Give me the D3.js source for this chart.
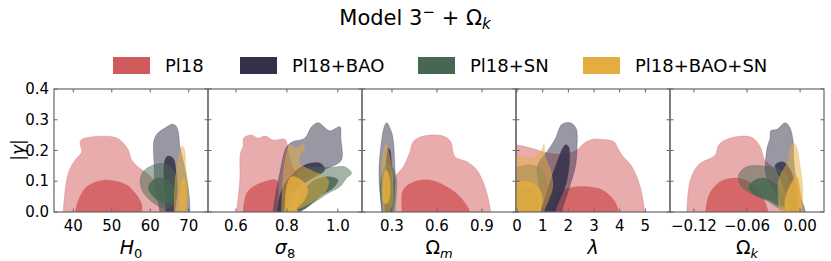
<!DOCTYPE html>
<html><head><meta charset="utf-8">
<script src="https://cdn.jsdelivr.net/npm/d3@7"></script>
<style>body{margin:0;background:#fff}svg{display:block}text{font-family:"DejaVu Sans",sans-serif;fill:#000}</style>
</head><body><svg id="c" width="831" height="261"></svg>
<script>
// ---- data ----
const seriesNames = ["Pl18", "Pl18+BAO", "Pl18+SN", "Pl18+BAO+SN"];
const seriesColors = ["#d15a5c", "#34304a", "#476752", "#e4ad3f"];
const params = ["H0", "sigma8", "Omega_m", "lambda", "Omega_k"];
const xDomains = [[35, 75], [0.49, 1.095], [0.1, 1.127], [-0.04, 5.96], [-0.147, 0.027]];
const xTicks = [[40, 50, 60, 70], [0.6, 0.8, 1.0], [0.3, 0.6, 0.9], [0, 1, 2, 3, 4, 5], [-0.12, -0.06, 0.0]];
const xTickLabels = [["40", "50", "60", "70"], ["0.6", "0.8", "1.0"], ["0.3", "0.6", "0.9"], ["0", "1", "2", "3", "4", "5"], ["\u22120.12", "\u22120.06", "0.00"]];
const yDomain = [0, 0.4];
const yTicks = [0, 0.1, 0.2, 0.3, 0.4];
const yTickLabels = ["0.0", "0.1", "0.2", "0.3", "0.4"];

// contour outlines [param value, |gamma|] per panel (95% and 68%)
const pl18_95 = [
  [[37.4,0],[38.7,0.126],[40.5,0.169],[42.2,0.196],[41.75,0.223],[42.2,0.236],[45.2,0.245],[50.8,0.243],[52.6,0.229],[54.3,0.202],[55.2,0.169],[57.3,0.142],[59.1,0.126],[61.7,0.093],[63.4,0.05],[64.3,0]],
  [[0.603,0],[0.615,0.104],[0.617,0.19],[0.628,0.215],[0.630,0.24],[0.661,0.25],[0.687,0.24],[0.714,0.247],[0.746,0.234],[0.792,0.236],[0.803,0.212],[0.804,0.202],[0.819,0.153],[0.851,0.111],[0.882,0.072],[0.886,0.023],[0.851,0]],
  [[0.320,0],[0.309,0.104],[0.375,0.147],[0.420,0.196],[0.442,0.229],[0.509,0.247],[0.642,0.247],[0.691,0.229],[0.720,0.180],[0.798,0.164],[0.865,0.137],[0.920,0.082],[0.958,0]],
  [[-0.3,-0.02],[-0.3,0.218],[0,0.218],[0.58,0.207],[1.23,0.191],[1.88,0.189],[2.34,0.202],[2.60,0.223],[2.92,0.236],[3.31,0.236],[3.77,0.229],[3.93,0.207],[4.09,0.185],[4.48,0.147],[4.80,0.082],[4.97,0]],
  [[-0.128,0],[-0.124,0.104],[-0.115,0.153],[-0.096,0.185],[-0.092,0.218],[-0.083,0.236],[-0.064,0.247],[-0.053,0.240],[-0.045,0.212],[-0.040,0.169],[-0.034,0.153],[-0.022,0.120],[-0.011,0.072],[-0.005,0]]
];
const pl18_68 = [
  [[40.5,0],[41.75,0.05],[43.5,0.082],[47,0.102],[50.4,0.102],[53.9,0.088],[56.5,0.055],[57.8,0.023],[57.8,0]],
  [[0.628,0],[0.642,0.061],[0.668,0.082],[0.714,0.099],[0.759,0.104],[0.766,0.061],[0.759,0]],
  [[0.365,0],[0.375,0.072],[0.453,0.099],[0.553,0.104],[0.665,0.082],[0.753,0.050],[0.820,0]],
  [[1.36,0],[1.62,0.061],[2.14,0.080],[2.79,0.082],[3.31,0.072],[3.77,0.039],[3.96,0]],
  [[-0.107,0],[-0.102,0.061],[-0.090,0.099],[-0.077,0.110],[-0.062,0.104],[-0.047,0.072],[-0.036,0]]
];
const bao_95 = [
  [[62.5,0],[61.2,0.088],[61.0,0.153],[61.0,0.234],[62.0,0.257],[63.8,0.273],[65.6,0.285],[66.7,0.280],[67.3,0.260],[67.7,0.212],[68.5,0.169],[69.3,0.120],[70.1,0.055],[70.3,0]],
  [[0.746,0],[0.772,0.126],[0.799,0.212],[0.825,0.229],[0.870,0.240],[0.897,0.277],[0.923,0.290],[0.968,0.264],[1.008,0.277],[1.012,0.240],[1.014,0.169],[0.975,0.147],[0.923,0.131],[0.870,0.104],[0.831,0.061],[0.805,0]],
  [[0.231,0],[0.213,0.126],[0.231,0.234],[0.250,0.280],[0.265,0.290],[0.285,0.275],[0.305,0.245],[0.320,0.104],[0.309,0]],
  [[0.97,0],[0.85,0.09],[0.80,0.15],[1.2,0.2],[1.5,0.24],[1.75,0.285],[2.08,0.290],[2.30,0.272],[2.34,0.212],[2.27,0.147],[2.01,0.072],[1.75,0]],
  [[-0.015,0],[-0.020,0.028],[-0.032,0.082],[-0.039,0.126],[-0.039,0.169],[-0.037,0.212],[-0.034,0.240],[-0.033,0.264],[-0.026,0.269],[-0.017,0.290],[-0.012,0.277],[-0.008,0.234],[-0.007,0.158],[-0.002,0.072],[0.006,0]]
];
const bao_68 = [
  [[64.1,0],[63.6,0.088],[63.8,0.169],[64.6,0.182],[65.9,0.176],[66.7,0.137],[67.0,0.072],[66.4,0]],
  [[0.761,0],[0.780,0.072],[0.819,0.120],[0.870,0.153],[0.929,0.159],[0.949,0.137],[0.890,0.104],[0.831,0.072],[0.792,0]],
  [[0.253,0],[0.258,0.12],[0.275,0.207],[0.287,0.20],[0.298,0.10],[0.298,0]],
  [[0.92,0],[1.10,0.05],[1.49,0.147],[1.88,0.218],[2.01,0.212],[1.95,0.104],[1.49,0]],
  [[-0.011,0],[-0.022,0.104],[-0.028,0.153],[-0.019,0.163],[-0.011,0.137],[-0.005,0.072],[-0.003,0]]
];
const sn_95 = [
  [[57.5,0.115],[59.1,0.142],[63.4,0.158],[65.6,0.142],[66.9,0.104],[66.7,0.039],[64.7,0.012],[62.5,0.017],[59.9,0.039],[57.8,0.072]],
  [[0.785,0],[0.812,0.072],[0.857,0.137],[0.910,0.145],[0.975,0.145],[1.027,0.147],[1.054,0.126],[1.034,0.110],[1.008,0.082],[0.962,0.061],[0.910,0.033],[0.864,0.012],[0.818,0]],
  [[0.233,0],[0.220,0.088],[0.245,0.140],[0.275,0.158],[0.31,0.14],[0.331,0.104],[0.320,0]],
  [[-0.3,-0.02],[-0.3,0.147],[0,0.147],[0.58,0.153],[0.97,0.137],[1.17,0.093],[1.04,0.050],[0.84,0]],
  [[-0.070,0.115],[-0.062,0.145],[-0.043,0.150],[-0.022,0.137],[-0.013,0.104],[-0.007,0.039],[-0.005,0.002],[-0.020,0.007],[-0.039,0.039],[-0.056,0.061],[-0.066,0.082]]
];
const sn_68 = [
  [[59.5,0.082],[61.7,0.110],[64.3,0.104],[66.2,0.072],[65.6,0.033],[63.4,0.030],[60.8,0.050]],
  [[0.843,0],[0.870,0.072],[0.910,0.104],[0.962,0.115],[1.001,0.104],[0.981,0.077],[0.936,0.055],[0.883,0.017]],
  [[0.275,0.104],[0.29,0.11],[0.309,0.08],[0.305,0.025],[0.29,0.017],[0.278,0.05]],
  [[-0.3,-0.02],[-0.3,0.072],[0,0.072],[0.51,0.077],[0.82,0.055],[0.82,0]],
  [[-0.058,0.082],[-0.051,0.104],[-0.039,0.110],[-0.024,0.082],[-0.017,0.039],[-0.019,0.017],[-0.036,0.039],[-0.051,0.055]]
];
const baosn_95 = [
  [[66.2,0],[66.4,0.088],[67.0,0.153],[67.7,0.195],[68.3,0.215],[68.9,0.202],[69.3,0.137],[69.9,0.072],[69.5,0]],
  [[0.779,0],[0.785,0.115],[0.799,0.191],[0.812,0.218],[0.838,0.207],[0.864,0.223],[0.870,0.207],[0.851,0.185],[0.851,0.158],[0.890,0.137],[0.936,0.120],[0.962,0.104],[0.955,0.072],[0.910,0.039],[0.864,0.017],[0.818,0]],
  [[0.240,0],[0.233,0.137],[0.245,0.200],[0.260,0.223],[0.275,0.20],[0.293,0.153],[0.307,0.039],[0.287,0]],
  [[-0.3,-0.02],[-0.3,0.182],[0,0.182],[0.58,0.175],[0.97,0.202],[1.05,0.22],[1.10,0.18],[1.30,0.137],[1.39,0.082],[1.23,0.039],[1.04,0]],
  [[-0.024,0],[-0.024,0.104],[-0.019,0.137],[-0.013,0.169],[-0.011,0.207],[-0.007,0.223],[-0.004,0.212],[0.000,0.147],[0.003,0.072],[0.002,0]]
];
const baosn_68 = [
  [[67.5,0],[67.6,0.055],[68.2,0.104],[68.8,0.111],[69.3,0.072],[69.0,0]],
  [[0.792,0],[0.799,0.082],[0.818,0.115],[0.857,0.104],[0.883,0.072],[0.870,0.039],[0.831,0]],
  [[0.245,0.03],[0.242,0.10],[0.258,0.137],[0.28,0.12],[0.287,0.06],[0.27,0.028]],
  [[-0.3,-0.02],[-0.3,0.099],[0,0.099],[0.51,0.098],[0.89,0.072],[1.0,0.039],[0.89,0]],
  [[-0.017,0],[-0.017,0.039],[-0.011,0.088],[-0.004,0.115],[0.000,0.072],[0.002,0]]
];
const contours95 = [pl18_95, bao_95, sn_95, baosn_95];
const contours68 = [pl18_68, bao_68, sn_68, baosn_68];

// ---- layout ----
const svg = d3.select("#c");
const padL = 54, pw = 154, padT = 89, padB = 212;
const axisCol = "#666";
const y = d3.scaleLinear().domain(yDomain).range([padB, padT]);
const OUTER_A = 0.5, INNER_A = 0.85;

function closeBottom(pts) {
  const p = pts.slice();
  const f = p[0], l = p[p.length - 1];
  if (f[1] <= 0.001 && l[1] <= 0.001) { p.push([l[0], -0.04]); p.push([f[0], -0.04]); }
  return p;
}

params.forEach((name, i) => {
  const x0 = padL + i * pw;
  const x = d3.scaleLinear().domain(xDomains[i]).range([x0, x0 + pw]);
  const g = svg.append("g");
  const cid = "clip" + i;
  svg.append("clipPath").attr("id", cid).append("rect")
    .attr("x", x0).attr("y", padT).attr("width", pw).attr("height", padB - padT);
  const cg = g.append("g").attr("clip-path", `url(#${cid})`);
  const line = d3.line().x(d => x(d[0])).y(d => y(d[1])).curve(d3.curveCatmullRomClosed.alpha(0.5));
  seriesNames.forEach((s, k) => {
    [[contours95[k][i], OUTER_A], [contours68[k][i], INNER_A]].forEach(([pts, a]) => {
      cg.append("path").attr("d", line(closeBottom(pts)))
        .attr("fill", seriesColors[k]).attr("fill-opacity", a)
        .attr("stroke", seriesColors[k]).attr("stroke-opacity", 0.35).attr("stroke-width", 0.8);
    });
  });
  const tg = g.append("g").attr("stroke", axisCol).attr("stroke-width", 1);
  xTicks[i].forEach(t => {
    tg.append("line").attr("x1", x(t)).attr("x2", x(t)).attr("y1", padB).attr("y2", padB - 3.5);
    tg.append("line").attr("x1", x(t)).attr("x2", x(t)).attr("y1", padT).attr("y2", padT + 3.5);
  });
  yTicks.forEach(t => {
    tg.append("line").attr("x1", x0).attr("x2", x0 + 3.5).attr("y1", y(t)).attr("y2", y(t));
    tg.append("line").attr("x1", x0 + pw).attr("x2", x0 + pw - 3.5).attr("y1", y(t)).attr("y2", y(t));
  });
  g.append("rect").attr("x", x0).attr("y", padT).attr("width", pw).attr("height", padB - padT)
    .attr("fill", "none").attr("stroke", axisCol).attr("stroke-width", 1.2);
  xTicks[i].forEach((t, j) => {
    g.append("text").attr("x", x(t)).attr("y", 231).attr("text-anchor", "middle")
      .attr("font-size", 15).text(xTickLabels[i][j]);
  });
});

yTicks.forEach((t, j) => {
  svg.append("text").attr("x", 49).attr("y", y(t) + 5).attr("text-anchor", "end")
    .attr("font-size", 15).text(yTickLabels[j]);
});
const yl = svg.append("text").attr("transform", "translate(24,150) rotate(-90)").attr("text-anchor", "middle")
  .attr("font-size", 17);
yl.append("tspan").text("|");
yl.append("tspan").attr("font-style", "italic").text("γ");
yl.append("tspan").text("|");

const xLabelParts = [["H", "0", true], ["σ", "8", true], ["Ω", "m", false], ["λ", null, true], ["Ω", "k", false]];
xLabelParts.forEach((p, i) => {
  const t = svg.append("text").attr("x", padL + i * pw + pw / 2).attr("y", 254)
    .attr("text-anchor", "middle").attr("font-size", 19);
  t.append("tspan").attr("font-style", p[2] ? "italic" : "normal").text(p[0]);
  if (p[1]) t.append("tspan").attr("font-size", 13).attr("dy", 4)
    .attr("font-style", /[a-z]/.test(p[1]) ? "italic" : "normal").text(p[1]);
});

const title = svg.append("text").attr("x", 415).attr("y", 25).attr("text-anchor", "middle").attr("font-size", 21);
title.append("tspan").text("Model 3");
title.append("tspan").attr("font-size", 15).attr("dy", -8).text("\u2212");
title.append("tspan").attr("dy", 8).text(" + Ω");
title.append("tspan").attr("font-size", 15).attr("dy", 4).attr("font-style", "italic").text("k");

const legX = [113, 240, 418, 583];
seriesNames.forEach((s, k) => {
  svg.append("rect").attr("x", legX[k]).attr("y", 57).attr("width", 37).attr("height", 17)
    .attr("fill", seriesColors[k]);
  svg.append("text").attr("x", legX[k] + 52).attr("y", 72).attr("font-size", 18).text(s);
});
</script></body></html>
